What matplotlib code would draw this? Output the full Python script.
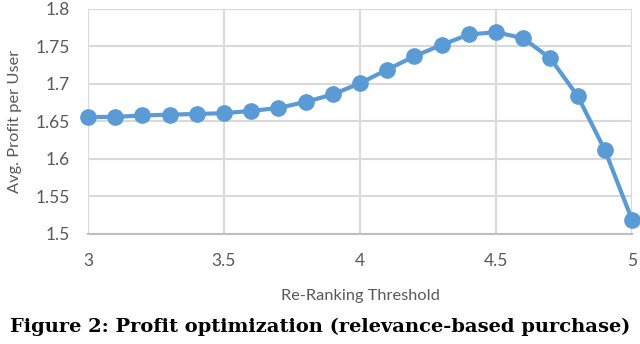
import numpy as np
import matplotlib.pyplot as plt

# re-ranking threshold vs avg. profit per user
thresholds = [3.0, 3.1, 3.2, 3.3, 3.4, 3.5, 3.6, 3.7, 3.8, 3.9, 4.0,
              4.1, 4.2, 4.3, 4.4, 4.5, 4.6, 4.7, 4.8, 4.9, 5.0]
profit = [1.656, 1.656, 1.658, 1.659, 1.660, 1.661, 1.664, 1.668, 1.676, 1.686, 1.701,
          1.719, 1.737, 1.752, 1.766, 1.769, 1.761, 1.734, 1.684, 1.612, 1.519]

x_ticks = [3, 3.5, 4, 4.5, 5]
x_tick_labels = ["3", "3.5", "4", "4.5", "5"]
y_ticks = [1.5, 1.55, 1.6, 1.65, 1.7, 1.75, 1.8]
y_tick_labels = ["1.5", "1.55", "1.6", "1.65", "1.7", "1.75", "1.8"]

fig = plt.figure(figsize=(6.4, 3.44), dpi=100)
ax = fig.add_axes([0.1375, 0.32, 0.85, 0.654])

ax.plot(thresholds, profit, color="#5B9BD5", lw=3, marker="o", ms=11,
        clip_on=False, zorder=3)

ax.set_xlim(3, 5)
ax.set_ylim(1.5, 1.8)
ax.set_xticks(x_ticks)
ax.set_xticklabels(x_tick_labels)
ax.set_yticks(y_ticks)
ax.set_yticklabels(y_tick_labels)
ax.grid(True, color="#D9D9D9", lw=1.5)
ax.set_axisbelow(True)
for s in ["top", "right", "left"]:
    ax.spines[s].set_visible(False)
ax.spines["bottom"].set_color("#BFBFBF")
ax.spines["bottom"].set_linewidth(1.5)
ax.tick_params(axis="x", length=0, labelsize=12.5, labelcolor="#595959", pad=14)
ax.tick_params(axis="y", length=0, labelsize=12.5, labelcolor="#595959", pad=13)
for lbl in ax.get_xticklabels() + ax.get_yticklabels():
    lbl.set_family("Lato")

ax.set_xlabel("Re-Ranking Threshold", family="Lato", fontsize=11.8, color="#595959", labelpad=14)
ax.set_ylabel("Avg. Profit per User", family="Lato", fontsize=11.8, color="#595959", labelpad=10)

fig.text(0.5, 0.05, "Figure 2: Profit optimization (relevance-based purchase)",
         ha="center", va="center", family="DejaVu Serif", fontweight="bold",
         fontsize=14, color="black")

fig.savefig("out.png", dpi=100)
